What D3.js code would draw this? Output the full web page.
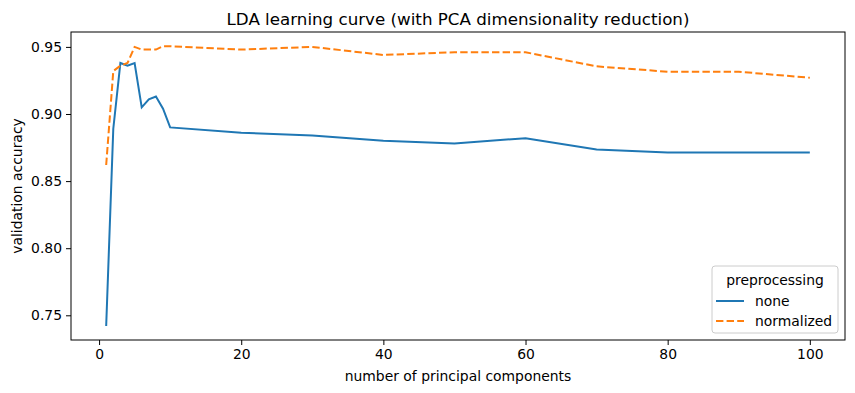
<!DOCTYPE html>
<html>
<head>
<meta charset="utf-8">
<script src="https://cdn.jsdelivr.net/npm/d3@7"></script>
<style>
  body { margin: 0; background: #fff; }
  text { font-family: "DejaVu Sans", sans-serif; }
</style>
</head>
<body>
<script>
const components = [1, 2, 3, 4, 5, 6, 7, 8, 9, 10, 20, 30, 40, 50, 60, 70, 80, 90, 100];
const accNone = [0.742, 0.889, 0.938, 0.936, 0.938, 0.905, 0.911, 0.913, 0.904, 0.890,
                 0.886, 0.884, 0.880, 0.878, 0.882, 0.8735, 0.8714, 0.8714, 0.8714];
const accNormalized = [0.862, 0.932, 0.936, 0.938, 0.950, 0.948, 0.948, 0.948, 0.9505, 0.9505,
                       0.948, 0.950, 0.944, 0.946, 0.946, 0.9355, 0.9315, 0.9315, 0.927];
const xTicks = [0, 20, 40, 60, 80, 100];
const yTicks = [0.75, 0.80, 0.85, 0.90, 0.95];
const seriesNames = ["none", "normalized"];

function main() {
    const W = 855, H = 393;
    const m = {left: 71, right: 10, top: 32, bottom: 53};
    const fs = 13.9;

    const svg = d3.select("body").append("svg")
        .attr("width", W)
        .attr("height", H);

    const x = d3.scaleLinear().domain([-3.95, 104.95]).range([m.left, W - m.right]);
    const y = d3.scaleLinear().domain([0.7316, 0.9611]).range([H - m.bottom, m.top]);

    const series = [
        {name: seriesNames[0], values: accNone, color: "#1f77b4", dash: null},
        {name: seriesNames[1], values: accNormalized, color: "#ff7f0e", dash: "7.4,3.2"}
    ];

    const line = d3.line()
        .x((d, i) => x(components[i]))
        .y(d => y(d));

    svg.selectAll(".series")
        .data(series)
        .join("path")
        .attr("class", "series")
        .attr("fill", "none")
        .attr("stroke", d => d.color)
        .attr("stroke-width", 2)
        .attr("stroke-dasharray", d => d.dash)
        .attr("d", d => line(d.values));

    // axes
    const xAxis = svg.append("g")
        .attr("transform", "translate(0," + (H - m.bottom) + ")")
        .call(d3.axisBottom(x).tickValues(xTicks).tickSizeOuter(0).tickSize(5).tickPadding(4));
    const yAxis = svg.append("g")
        .attr("transform", "translate(" + m.left + ",0)")
        .call(d3.axisLeft(y).tickValues(yTicks).tickFormat(d3.format(".2f")).tickSizeOuter(0).tickSize(5).tickPadding(4));
    [xAxis, yAxis].forEach(g => {
        g.select(".domain").remove();
        g.selectAll("text").attr("font-size", fs).attr("fill", "#000").style("font-family", "DejaVu Sans");
        g.selectAll("line").attr("stroke", "#000").attr("stroke-width", 1);
    });

    svg.append("rect")
        .attr("x", m.left).attr("y", m.top)
        .attr("width", W - m.right - m.left).attr("height", H - m.bottom - m.top)
        .attr("fill", "none").attr("stroke", "#000").attr("stroke-width", 1);

    svg.append("text")
        .attr("x", (m.left + W - m.right) / 2).attr("y", 25)
        .attr("text-anchor", "middle").attr("font-size", 16.7)
        .text("LDA learning curve (with PCA dimensionality reduction)");

    svg.append("text")
        .attr("x", (m.left + W - m.right) / 2).attr("y", 381)
        .attr("text-anchor", "middle").attr("font-size", fs)
        .text("number of principal components");

    svg.append("text")
        .attr("transform", "translate(22," + ((m.top + H - m.bottom) / 2) + ") rotate(-90)")
        .attr("text-anchor", "middle").attr("font-size", fs)
        .text("validation accuracy");

    // legend
    const lg = svg.append("g").attr("transform", "translate(712,266)");
    lg.append("rect")
        .attr("width", 126).attr("height", 67).attr("rx", 3)
        .attr("fill", "#fff").attr("fill-opacity", 0.8)
        .attr("stroke", "#ccc");
    lg.append("text")
        .attr("x", 63).attr("y", 19).attr("text-anchor", "middle").attr("font-size", fs)
        .text("preprocessing");
    const items = lg.selectAll(".item").data(series).join("g")
        .attr("class", "item")
        .attr("transform", (d, i) => "translate(0," + (35 + i * 20) + ")");
    items.append("line")
        .attr("x1", 4).attr("x2", 32)
        .attr("stroke", d => d.color).attr("stroke-width", 2)
        .attr("stroke-dasharray", d => d.dash);
    items.append("text")
        .attr("x", 43).attr("y", 5).attr("font-size", fs)
        .text(d => d.name);
}
main();
</script>
</body>
</html>
